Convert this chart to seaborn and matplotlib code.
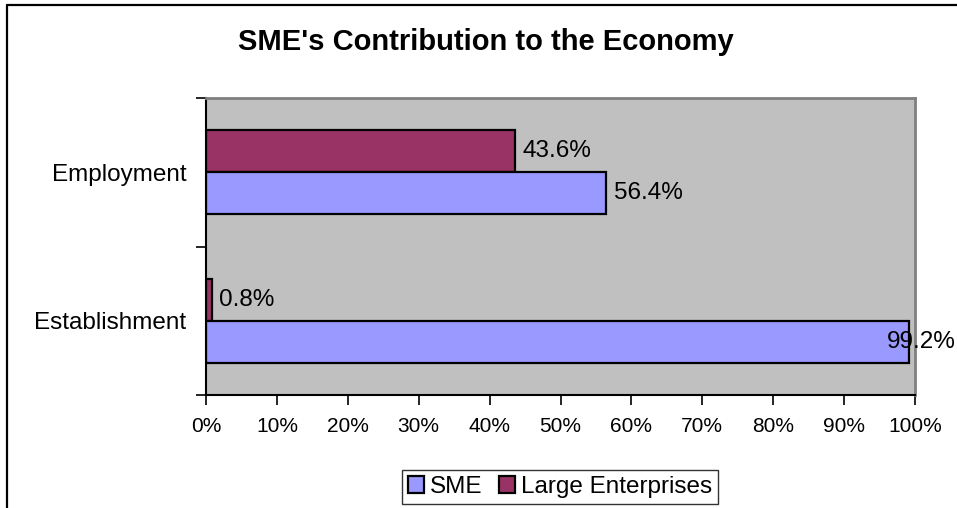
import matplotlib
matplotlib.use("Agg")
import matplotlib.pyplot as plt
from matplotlib.lines import Line2D
from matplotlib.patches import Patch
from matplotlib.ticker import FixedLocator
import seaborn as sns
import pandas as pd

# data
measures = ["Employment", "Establishment"]
sme_share = [56.4, 99.2]
large_share = [43.6, 0.8]
series = ["SME", "Large Enterprises"]
colors = {"SME": "#9999FF", "Large Enterprises": "#993366"}

df = pd.DataFrame({
    "measure": measures * 2,
    "share": sme_share + large_share,
    "type": ["SME"] * len(measures) + ["Large Enterprises"] * len(measures),
})

sns.set_style("white")
plt.rcParams["font.family"] = ["Liberation Sans", "DejaVu Sans"]
plt.rcParams["text.color"] = "black"
plt.rcParams["xtick.color"] = "black"
plt.rcParams["ytick.color"] = "black"
plt.rcParams["axes.labelcolor"] = "black"

fig = plt.figure(figsize=(9.57, 5.08), dpi=100)
ax = fig.add_axes([206 / 957, 1 - 395 / 508, (915 - 206) / 957, (395 - 98) / 508])
ax.set_facecolor("#C0C0C0")

hue_order = ["Large Enterprises", "SME"]
sns.barplot(data=df, y="measure", x="share", hue="type", order=measures,
            hue_order=hue_order, orient="h", width=0.566, palette=colors,
            saturation=1, edgecolor="black", linewidth=1.6, legend=False, ax=ax)

ax.set_xlim(0, 100)
ax.set_ylim(1.5, -0.5)
ax.set_xticks(range(0, 101, 10))
ax.set_xticklabels([f"{v}%" for v in range(0, 101, 10)], fontsize=15)
ax.tick_params(axis="x", direction="out", length=7, width=1.2, color="black",
               labelcolor="black", pad=9, bottom=True)
ax.tick_params(axis="y", which="major", length=0, pad=14, labelsize=17.5,
               labelcolor="black")
ax.yaxis.set_minor_locator(FixedLocator([-0.5, 0.5, 1.5]))
ax.tick_params(axis="y", which="minor", direction="out", length=7, width=1.2,
               color="black", left=True)
ax.set_xlabel("")
ax.set_ylabel("")

for side in ["top", "right"]:
    ax.spines[side].set_color("#808080")
    ax.spines[side].set_linewidth(2)
for side in ["left", "bottom"]:
    ax.spines[side].set_color("black")
    ax.spines[side].set_linewidth(1.5)

# value labels
for cont, name in zip(ax.containers, hue_order):
    for bar in cont:
        val = bar.get_width()
        yc = bar.get_y() + bar.get_height() / 2
        xt = val + 1.1 if val < 95 else val - 3.2
        ax.text(xt, yc, f"{val:.1f}%", ha="left", va="center", fontsize=17.5,
                color="black", clip_on=False)

fig.text(0.508, 1 - 42 / 508, "SME's Contribution to the Economy",
         ha="center", va="center", fontsize=21, fontweight="bold", color="black")

handles = [Patch(facecolor=colors[s], edgecolor="black", linewidth=1.6) for s in series]
leg = fig.legend(handles, series, loc="center", bbox_to_anchor=(560 / 957, 1 - 487 / 508),
                 ncol=2, fontsize=17.5, frameon=True, fancybox=False,
                 handlelength=0.65, handleheight=0.65, handletextpad=0.25,
                 columnspacing=0.7, borderpad=0.25, borderaxespad=0)
leg.get_frame().set_edgecolor("black")
leg.get_frame().set_linewidth(1.0)
for t in leg.get_texts():
    t.set_color("black")

# chart area border (left and top visible)
fig.add_artist(Line2D([7 / 957, 7 / 957], [0, 1 - 5 / 508], color="black",
                      linewidth=1.6, transform=fig.transFigure))
fig.add_artist(Line2D([7 / 957, 1], [1 - 5 / 508, 1 - 5 / 508], color="black",
                      linewidth=1.6, transform=fig.transFigure))

fig.savefig("out.png", dpi=100)
